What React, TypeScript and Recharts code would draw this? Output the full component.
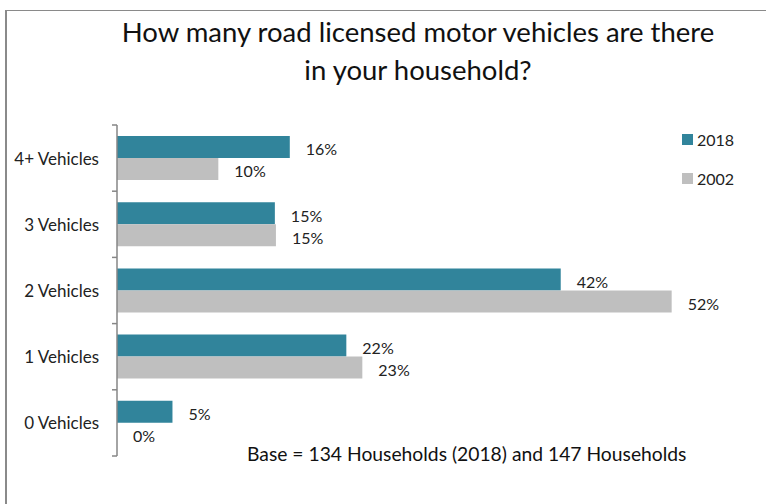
import { BarChart, Bar, XAxis, YAxis, LabelList } from 'recharts';

const categories = ['4+ Vehicles', '3 Vehicles', '2 Vehicles', '1 Vehicles', '0 Vehicles'];
const share2018 = [16.2, 14.8, 41.6, 21.5, 5.2];
const share2002 = [9.5, 14.9, 52.0, 23.0, 0];
const seriesNames = ['2018', '2002'];

const TEAL = '#31849b';
const GREY = '#bfbfbf';
const AXIS = '#868686';
const FONT = 'Lato, "Open Sans", sans-serif';

const data = categories.map((name, i) => ({ name, y2018: share2018[i], y2002: share2002[i] }));

const W = 766;
const H = 504;
const TOP = 125;
const BOTTOM = 48;
const AXIS_X = 117;
const band = (H - TOP - BOTTOM) / categories.length;

function CategoryTick(props: any) {
  const { y, payload, index } = props;
  return (
    <g>
      <text x={AXIS_X - 18} y={y} textAnchor="end" dominantBaseline="central" fontSize={17} fill="#222" fontFamily={FONT}>
        {payload.value}
      </text>
      <line x1={AXIS_X - 5} x2={AXIS_X} y1={y - band / 2} y2={y - band / 2} stroke={AXIS} strokeWidth={1.5} />
      {index === categories.length - 1 && (
        <line x1={AXIS_X - 5} x2={AXIS_X} y1={y + band / 2} y2={y + band / 2} stroke={AXIS} strokeWidth={1.5} />
      )}
    </g>
  );
}

function ValueLabel(props: any) {
  const { x, y, width, height, value } = props;
  return (
    <text x={x + width + 16} y={y + height / 2 + 2} dominantBaseline="central" fontSize={16} fill="#222" fontFamily={FONT}>
      {Math.round(value)}%
    </text>
  );
}

export default function App() {
  return (
    <div style={{ position: 'absolute', left: 0, top: 0, width: W, height: H, background: '#fff', overflow: 'hidden', fontFamily: FONT }}>
      <div style={{ position: 'absolute', left: 5, top: 10, right: 0, bottom: 0, borderTop: '1.5px solid #8a8a8a', borderLeft: '2px solid #8a8a8a' }} />
      <div style={{ position: 'absolute', left: 70, width: 696, top: 13, textAlign: 'center', fontSize: 27.5, lineHeight: '38px', color: '#111' }}>
        How many road licensed motor vehicles are there
        <br />
        in your household?
      </div>
      <BarChart
        width={W}
        height={H}
        data={data}
        layout="vertical"
        margin={{ top: TOP, bottom: BOTTOM, left: AXIS_X - 100, right: 9 }}
        barCategoryGap="16.6%"
        barGap={0}
      >
        <XAxis type="number" domain={[0, 60]} hide />
        <YAxis
          type="category"
          dataKey="name"
          width={100}
          axisLine={{ stroke: AXIS, strokeWidth: 1.5 }}
          tickLine={false}
          tick={<CategoryTick />}
          interval={0}
        />
        <Bar dataKey="y2018" name={seriesNames[0]} fill={TEAL} isAnimationActive={false}>
          <LabelList dataKey="y2018" content={<ValueLabel />} />
        </Bar>
        <Bar dataKey="y2002" name={seriesNames[1]} fill={GREY} minPointSize={0.01} isAnimationActive={false}>
          <LabelList dataKey="y2002" content={<ValueLabel />} />
        </Bar>
      </BarChart>
      {seriesNames.map((s, i) => (
        <div key={s} style={{ position: 'absolute', left: 682, top: 128 + i * 39, height: 22, display: 'flex', alignItems: 'center', fontSize: 16, color: '#222' }}>
          <span style={{ display: 'inline-block', width: 11, height: 11, background: i === 0 ? TEAL : GREY, marginRight: 4 }} />
          {s}
        </div>
      ))}
      <div style={{ position: 'absolute', left: 247, top: 442, fontSize: 19.3, color: '#111', whiteSpace: 'nowrap' }}>
        Base = 134 Households (2018) and 147 Households
      </div>
    </div>
  );
}
